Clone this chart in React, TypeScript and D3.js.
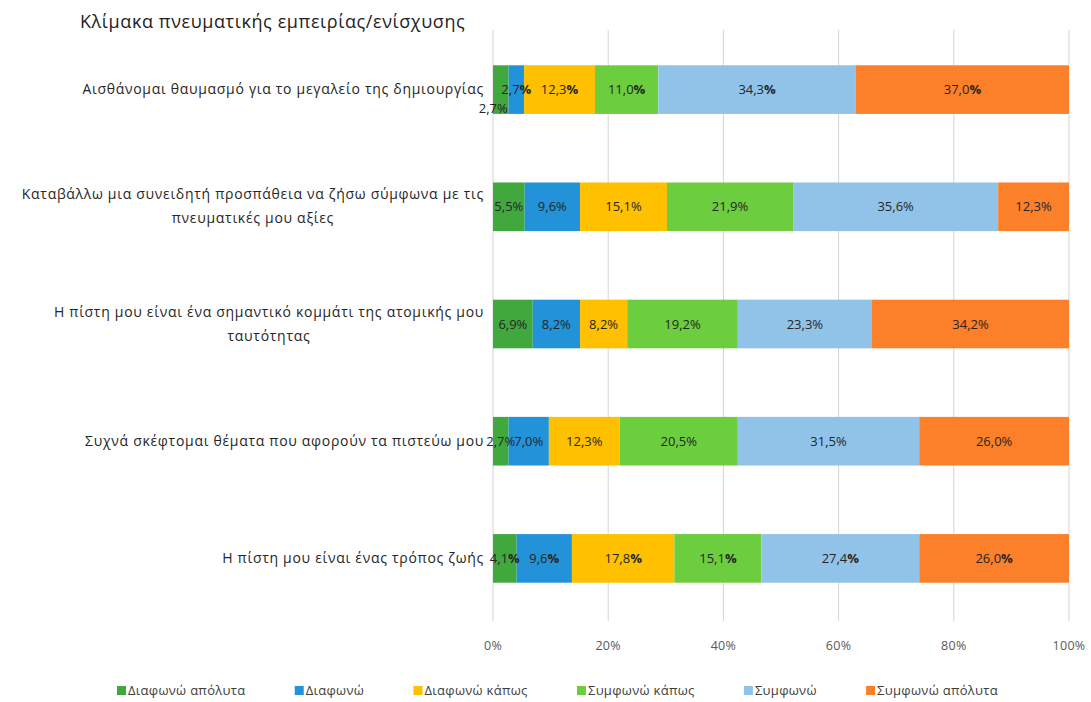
import React, { useEffect, useRef } from "react";
import * as d3 from "d3";

const title = "Κλίμακα πνευματικής εμπειρίας/ενίσχυσης";
const categories: string[][] = [
  ["Αισθάνομαι θαυμασμό για το μεγαλείο της δημιουργίας"],
  ["Καταβάλλω μια συνειδητή προσπάθεια να ζήσω σύμφωνα με τις", "πνευματικές μου αξίες"],
  ["Η πίστη μου είναι ένα σημαντικό κομμάτι της ατομικής μου", "ταυτότητας"],
  ["Συχνά σκέφτομαι θέματα που αφορούν τα πιστεύω μου"],
  ["Η πίστη μου είναι ένας τρόπος ζωής"],
];
const seriesNames = ["Διαφωνώ απόλυτα", "Διαφωνώ", "Διαφωνώ κάπως", "Συμφωνώ κάπως", "Συμφωνώ", "Συμφωνώ απόλυτα"];
const seriesColors = ["#41a83e", "#2293d8", "#ffc000", "#6ccd3e", "#91c3e9", "#fc7f2a"];
const diafonoApolyta = [2.7, 5.5, 6.9, 2.7, 4.1];
const diafono = [2.7, 9.6, 8.2, 7.0, 9.6];
const diafonoKapos = [12.3, 15.1, 8.2, 12.3, 17.8];
const symfonoKapos = [11.0, 21.9, 19.2, 20.5, 15.1];
const symfono = [34.3, 35.6, 23.3, 31.5, 27.4];
const symfonoApolyta = [37.0, 12.3, 34.2, 26.0, 26.0];
const seriesValues = [diafonoApolyta, diafono, diafonoKapos, symfonoKapos, symfono, symfonoApolyta];
const xTicks = [0, 0.2, 0.4, 0.6, 0.8, 1.0];
const boldPercentRows = [0, 4];

const W = 1091;
const H = 702;
const FONT = "'Open Sans', 'Noto Sans', sans-serif";

export default function App() {
  const ref = useRef<SVGSVGElement>(null);
  useEffect(() => {
    const svg = d3.select(ref.current);
    svg.selectAll("*").remove();

    const x = d3.scaleLinear().domain([0, 1]).range([493, 1069]);
    const y = d3
      .scaleBand<number>()
      .domain(d3.range(categories.length))
      .range([31, 617])
      .paddingInner(0.585)
      .paddingOuter(0.2925);

    svg
      .append("text")
      .attr("x", 80)
      .attr("y", 28)
      .attr("font-family", FONT)
      .attr("font-size", 18)
      .attr("letter-spacing", 0.6)
      .attr("fill", "#222")
      .text(title);

    // gridlines
    svg
      .append("g")
      .selectAll("line")
      .data(xTicks)
      .join("line")
      .attr("x1", (d) => x(d))
      .attr("x2", (d) => x(d))
      .attr("y1", 30)
      .attr("y2", 621)
      .attr("stroke", "#d4d4d4")
      .attr("stroke-width", 1);

    // tick labels
    svg
      .append("g")
      .selectAll("text")
      .data(xTicks)
      .join("text")
      .attr("x", (d) => x(d))
      .attr("y", 650)
      .attr("text-anchor", "middle")
      .attr("font-family", FONT)
      .attr("font-size", 12.5)
      .attr("letter-spacing", 0.3)
      .attr("fill", "#595959")
      .text((d) => `${Math.round(d * 100)}%`);

    // stack
    const rows = categories.map((_, i) => {
      const o: any = { i };
      seriesNames.forEach((n, s) => (o[n] = seriesValues[s][i] / 100));
      return o;
    });
    const stacked = d3.stack<any>().keys(seriesNames)(rows);
    const fmt = (v: number) => d3.format(".1f")(v).replace(".", ",");

    stacked.forEach((layer, s) => {
      const g = svg.append("g");
      g.selectAll("rect")
        .data(layer)
        .join("rect")
        .attr("x", (d) => x(d[0]))
        .attr("width", (d) => x(d[1]) - x(d[0]))
        .attr("y", (d, i) => y(i)!)
        .attr("height", y.bandwidth())
        .attr("fill", seriesColors[s]);
    });

    stacked.forEach((layer, s) => {
      layer.forEach((d, i) => {
        const v = seriesValues[s][i];
        const cx = (x(d[0]) + x(d[1])) / 2;
        const cy = y(i)! + y.bandwidth() / 2;
        const offset = s === 0 && i === 0;
        const t = svg
          .append("text")
          .attr("x", offset ? cx + 7 : cx)
          .attr("y", offset ? cy + 23 : cy + 4.5)
          .attr("text-anchor", offset ? "end" : "middle")
          .attr("font-family", FONT)
          .attr("font-size", 13)
          .attr("fill", "#262626");
        const num = fmt(v);
        t.append("tspan").text(num);
        const bold = boldPercentRows.includes(i) && !offset;
        t.append("tspan").attr("font-weight", bold ? "bold" : "normal").text("%");
      });
    });

    // category labels
    categories.forEach((lines, i) => {
      const cy = y(i)! + y.bandwidth() / 2;
      const g = svg.append("g");
      const lh = 24;
      const texts = lines.map((ln, k) =>
        g
          .append("text")
          .attr("y", cy + 4.5 + (k - (lines.length - 1) / 2) * lh)
          .attr("text-anchor", "middle")
          .attr("font-family", FONT)
          .attr("font-size", 14)
          .attr("letter-spacing", 0.7)
          .attr("fill", "#262626")
          .text(ln)
      );
      const widths = texts.map((t) => (t.node() as SVGTextElement).getComputedTextLength());
      const maxW = d3.max(widths) || 0;
      texts.forEach((t) => t.attr("x", 484 - maxW / 2));
    });

    // legend
    const lg = svg.append("g");
    const items = seriesNames.map((n, s) => {
      const g = lg.append("g");
      g.append("rect").attr("width", 9).attr("height", 9).attr("y", -9).attr("fill", seriesColors[s]);
      const t = g
        .append("text")
        .attr("x", 11)
        .attr("font-family", FONT)
        .attr("font-size", 13)
        .attr("letter-spacing", 0.3)
        .attr("fill", "#404040")
        .text(n);
      return { g, w: 11 + (t.node() as SVGTextElement).getComputedTextLength() };
    });
    const total = d3.sum(items, (d) => d.w);
    const left = 117;
    const right = 998;
    const gap = (right - left - total) / (items.length - 1);
    let cur = left;
    items.forEach((it) => {
      it.g.attr("transform", `translate(${cur},${695})`);
      cur += it.w + gap;
    });
  }, []);

  return (
    <svg
      ref={ref}
      width={W}
      height={H}
      style={{ display: "block", position: "fixed", left: 0, top: 0, background: "#fff" }}
    />
  );
}
